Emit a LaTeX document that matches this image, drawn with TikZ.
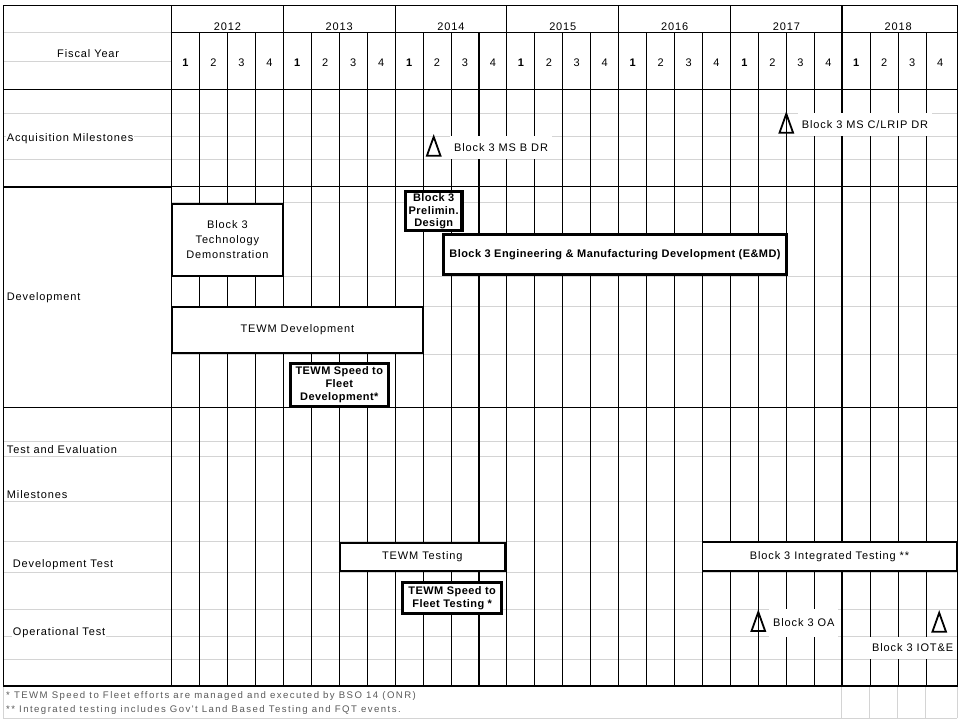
\documentclass[tikz,border=0pt]{standalone}
\usepackage{fontspec}
\setmainfont{Liberation Sans}[UprightFeatures={LetterSpace=8},BoldFeatures={LetterSpace=4}]
\newfontfamily\notefont{Liberation Sans}[LetterSpace=15]
\newcommand{\chartsize}{\fontsize{11}{12.8}\selectfont}
\newcommand{\qx}[1]{(171.5+(#1)*27.95)}
\tikzset{%
  rowlabel/.style = {anchor=base west, fill=white, inner sep=1pt},%
  phase/.style    = {shape=rectangle, draw, fill=white, align=center,%
                     line width=1.8pt, inner sep=0pt},%
  keyphase/.style = {phase, line width=3.2pt, font=\chartsize\bfseries},%
  mslabel/.style  = {anchor=west, fill=white, inner xsep=4pt, inner ysep=0pt,%
                     text height=7.6pt, text depth=0pt},%
  mstri/.style    = {draw, line width=1.8pt, line join=miter},%
  note/.style     = {anchor=base west, inner sep=0pt, text=black!65,%
                     font=\notefont\fontsize{9.6}{11}\selectfont}%
}
\newcommand{\milestone}[2]{\draw[mstri] (#1-6.8,#2+9.5) -- (#1,#2-9.5) -- (#1+6.8,#2+9.5) -- cycle;}

\begin{document}
\begin{tikzpicture}[x=1pt,y=-1pt,font=\chartsize,text=black,
	gridline/.style={draw=black,line width=0.9pt},
	faint/.style={draw=black!17,line width=0.8pt}]
\useasboundingbox (0,0) rectangle (960,720);
% sheet gridlines
\draw[faint] (3.3,32) -- (171.5,32) (3.3,61) -- (171.5,61);
\foreach \y in {113,136,159,441.7,456.7,501.7,541.7,572.3,609.3,636.7,659.3,718}
	\draw[faint] (3.3,\y) -- (957,\y);
\foreach \y in {202.7,276.7,306.7,354.3}
	\draw[faint] (171.5,\y) -- (957,\y);
\foreach \x in {3.3,841,869,897,925,957}
	\draw[faint] (\x,686) -- (\x,718);
% frame and quarters
\draw[gridline] (3.3,5) rectangle (957,686);
\draw[gridline] (171.5,32.5) -- (957,32.5);
\draw[gridline] (3.3,89.5) -- (957,89.5);
\draw[gridline] (171.5,186.7) -- (957,186.7);
\draw[gridline,line width=2.4pt] (3.3,186.7) -- (171.5,186.7);
\draw[gridline] (3.3,407.5) -- (957,407.5);
\draw[gridline,line width=2.4pt] (3.3,686) -- (957,686);
\draw[gridline,line width=1.5pt] (171.5,5) -- (171.5,686);
\foreach \k in {1,...,27}{
	\pgfmathsetmacro\ytop{mod(\k,4)==0 ? 5 : 32.5}
	\draw[gridline] ({\qx{\k}},\ytop) -- ({\qx{\k}},686);
}
\draw[gridline,line width=2.2pt] ({\qx{11}},32.5) -- ({\qx{11}},686);
\draw[gridline,line width=2.2pt] ({\qx{24}},5) -- ({\qx{24}},686);

% headings
\node (fy) at (88.2,57.7) [anchor=base] {Fiscal Year};
\foreach \yr [count=\i from 0] in {2012,...,2018}
	\node (y\yr) at ({\qx{4*\i+2}},30) [anchor=base] {\yr};
\foreach \i in {0,...,6}
	\foreach \q in {1,...,4}
		\node (q\i\q) at ({\qx{4*\i+\q-0.5}},66.7) [anchor=base] {\ifnum\q=1\bfseries\fi\q};

\node[rowlabel] (acq)  at (5.7,141.7) {Acquisition Milestones};
\node[rowlabel] (dev)  at (5.7,300.7) {Development};
\node[rowlabel] (te)   at (5.7,453)   {Test and Evaluation};
\node[rowlabel] (tems) at (5.7,498)   {Milestones};
\node[rowlabel] (dt)   at (11.7,567)  {Development Test};
\node[rowlabel] (ot)   at (11.7,635)  {Operational Test};

% development bars
\node[phase, minimum width=110pt, minimum height=72pt, font=\fontsize{11}{15}\selectfont]
	(techdemo) at (227.4,239.7) {Block 3\\Technology\\Demonstration};
\node[keyphase, minimum width=56.5pt, minimum height=39.3pt] (prelim) at (433.7,211.2) {Block 3\\Prelimin.\\Design};
\node[keyphase, minimum width=343.6pt, minimum height=40.3pt] (emd) at (615,254.3)
	{Block 3 Engineering \& Manufacturing Development (E\&MD)};
\node[phase, minimum width=250pt, minimum height=46pt] (tewmdev) at (297.4,330) {TEWM Development};
\node[keyphase, minimum width=98.3pt, minimum height=43pt] (stfdev) at (339.3,384.7)
	{TEWM Speed to\\Fleet\\Development*};

% test bars
\node[phase, minimum width=165pt, minimum height=28pt] (tewmtest) at (422.3,556.7) {TEWM Testing};
\node[keyphase, minimum width=99.3pt, minimum height=31pt] (stftest) at (452.2,598)
	{TEWM Speed to\\Fleet Testing *};
\node[phase, minimum width=254pt, minimum height=29.6pt] (integ) at (829.5,556.5)
	{Block 3 Integrated Testing **};

% milestones
\milestone{433.7}{146.3}
\node[mslabel, minimum height=23pt] (msb) at (450,147.5) {Block 3 MS B DR};
\milestone{786.3}{123.3}
\node[mslabel, minimum height=23pt] (msc) at (797.7,124.5) {Block 3 MS C/LRIP DR};
\milestone{758.3}{621.5}
\node[mslabel, minimum height=27.4pt] (oa) at (769,623) {Block 3 OA};
\milestone{939.2}{622.3}
\node[mslabel, minimum height=22.6pt] (iote) at (868,648) {Block 3 IOT\&E};

% footnotes
\node[note] (fn1) at (6,698.5) {* TEWM Speed to Fleet efforts are managed and executed by BSO 14 (ONR)};
\node[note] (fn2) at (6,712) {** Integrated testing includes Gov't Land Based Testing and FQT events.};
\end{tikzpicture}
\end{document}
